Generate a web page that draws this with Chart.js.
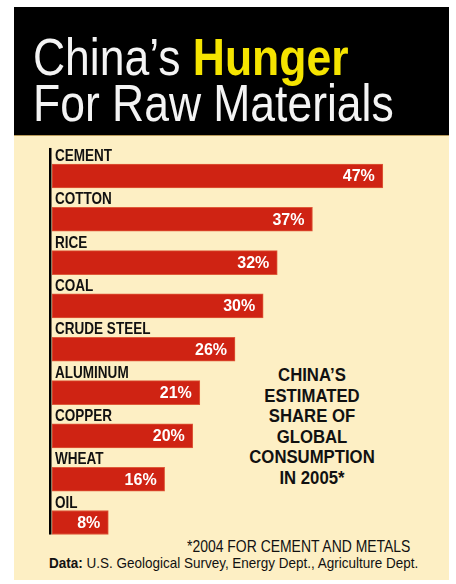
<!DOCTYPE html>
<html>
<head>
<meta charset="utf-8">
<script src="https://cdn.jsdelivr.net/npm/chart.js@4.4.1/dist/chart.umd.min.js"></script>
<style>
  html, body { margin: 0; padding: 0; background: #fff; }
  body { width: 456px; height: 584px; position: relative; overflow: hidden; }
  .head { position: absolute; left: 14px; top: 7px; width: 435px; height: 128px; background: #000; border-bottom: 1px solid #b89a5a; }
  .panel { position: absolute; left: 14px; top: 136px; width: 435px; height: 444px; background: #fdefc4; }
  .tline { position: absolute; left: 33px; font-family: "Liberation Sans", Arial, sans-serif; font-size: 52px; line-height: 52px;
           color: #f4f4f4; white-space: nowrap; transform: scaleX(0.855); transform-origin: 0 0; }
  .tline b { color: #f5e400; }
  /* no narrow face installed, so squeeze the normal one */
  .narrow { font-family: "Liberation Sans", Arial, sans-serif; color: #111; white-space: nowrap; }
  .side { position: absolute; left: 212px; width: 200px; top: 365px; text-align: center; font-size: 19px; line-height: 20.5px;
          font-weight: bold; transform: scaleX(0.88); transform-origin: 50% 0; }
  .foot { position: absolute; right: 46px; top: 537px; font-size: 17px; line-height: 20px; transform: scaleX(0.82); transform-origin: 100% 0; }
  .src { position: absolute; left: 49px; top: 555px; font-size: 14.5px; line-height: 16px; transform: scaleX(0.93); transform-origin: 0 0; }
  #chart { position: absolute; left: 0; top: 0; }
</style>
</head>
<body>
<div class="head"></div>
<div class="panel"></div>
<div class="tline" style="top:31px">China’s <b>Hunger</b></div>
<div class="tline" style="top:77px">For Raw Materials</div>
<div class="side narrow">CHINA’S<br>ESTIMATED<br>SHARE OF<br>GLOBAL<br>CONSUMPTION<br>IN 2005*</div>
<div class="foot narrow">*2004 FOR CEMENT AND METALS</div>
<div class="src narrow"><b>Data:</b> U.S. Geological Survey, Energy Dept., Agriculture Dept.</div>
<canvas id="chart" width="456" height="584"></canvas>
<script>
// china's share of global consumption, percent
const materials = ['CEMENT', 'COTTON', 'RICE', 'COAL', 'CRUDE STEEL', 'ALUMINUM', 'COPPER', 'WHEAT', 'OIL'];
const shares = [47, 37, 32, 30, 26, 21, 20, 16, 8];
const xMax = 56;

// names above each bar, values inside its right end, plus the black spine
const barText = {
  id: 'barText',
  afterDatasetsDraw(chart) {
    const ctx = chart.ctx;
    const bars = chart.getDatasetMeta(0).data;
    ctx.save();
    const first = bars[0], last = bars[bars.length - 1];
    const spineTop = first.y - first.height / 2 - 16;
    ctx.fillStyle = '#000';
    ctx.fillRect(49, spineTop, 2.5, last.y + last.height / 2 - spineTop);
    bars.forEach((bar, i) => {
      const top = bar.y - bar.height / 2;
      ctx.save();
      ctx.translate(55, top - 3);
      ctx.scale(0.82, 1);
      ctx.fillStyle = '#111';
      ctx.font = 'bold 16.5px "Liberation Sans", Arial, sans-serif';
      ctx.textAlign = 'left';
      ctx.textBaseline = 'alphabetic';
      ctx.fillText(materials[i], 0, 0);
      ctx.restore();
      ctx.fillStyle = '#fff';
      ctx.font = 'bold 16px "Liberation Sans", Arial, sans-serif';
      ctx.textAlign = 'right';
      ctx.textBaseline = 'middle';
      ctx.fillText(shares[i] + '%', bar.x - 8, bar.y + 1);
    });
    ctx.restore();
  }
};

new Chart(document.getElementById('chart'), {
  type: 'bar',
  data: {
    labels: materials,
    datasets: [{
      data: shares,
      backgroundColor: '#cf2313',
      borderColor: '#de5a3a',
      borderWidth: 1,
      borderSkipped: false,
      barThickness: 24
    }]
  },
  options: {
    indexAxis: 'y',
    responsive: false,
    devicePixelRatio: 1,
    animation: false,
    layout: { padding: { left: 52, right: 9.8, top: 154.3, bottom: 39.8 } },
    scales: {
      x: { display: false, min: 0, max: xMax },
      y: { display: false }
    },
    plugins: { legend: { display: false }, tooltip: { enabled: false } }
  },
  plugins: [barText]
});
</script>
</body>
</html>
